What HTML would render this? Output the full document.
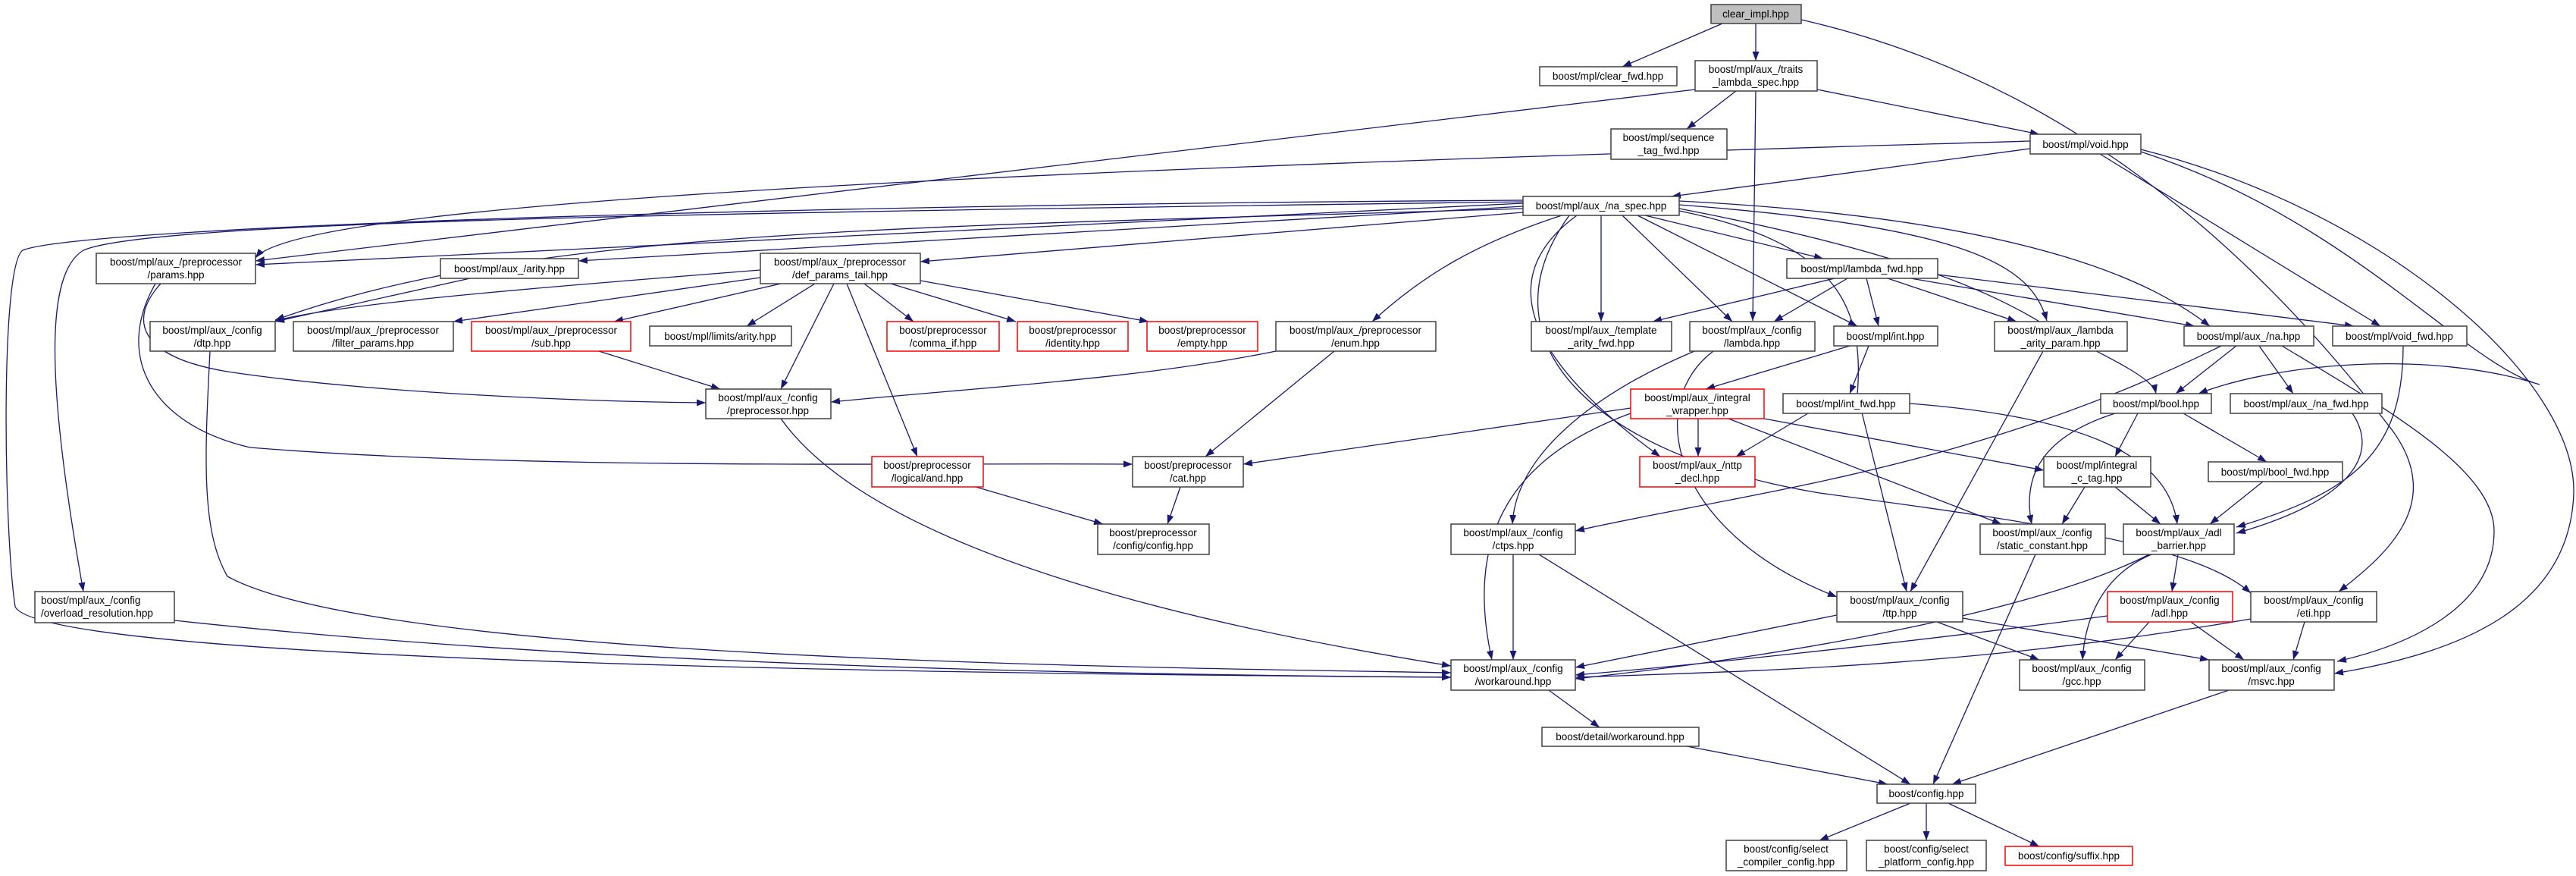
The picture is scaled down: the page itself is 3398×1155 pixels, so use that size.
<!DOCTYPE html>
<html><head><meta charset="utf-8"><style>
html,body{margin:0;padding:0;background:#fff;}
svg{display:block;}
text{font-family:"Liberation Sans",sans-serif;font-size:13.5px;fill:#000;}
.n{fill:#fff;stroke:#404040;stroke-width:1.5;}
.r{fill:#fff;stroke:#ff0000;stroke-width:1.5;}
.g{fill:#bfbfbf;stroke:#404040;stroke-width:1.5;}
path.e{fill:none;stroke:#191970;stroke-width:1.3;marker-end:url(#a);}
</style></head><body>
<svg width="3398" height="1155" viewBox="0 0 3398 1155" xmlns="http://www.w3.org/2000/svg">
<defs><marker id="a" markerUnits="userSpaceOnUse" markerWidth="13" markerHeight="9" refX="12" refY="4.5" orient="auto"><path d="M0,0 L12,4.5 L0,9 z" fill="#191970"/></marker></defs>
<g>
<path class="e" d="M2272,31 L2140,88"/>
<path class="e" d="M2316,31 L2316,80"/>
<path class="e" d="M2376,26 C2700,100 2950,300 3150,560 C3230,660 3150,730 3085,780"/>
<path class="e" d="M2236,118 L337,344"/>
<path class="e" d="M2290,120 L2225,170"/>
<path class="e" d="M2397,118 L2690,177"/>
<path class="e" d="M2316,120 L2312,423"/>
<path class="e" d="M2678,196 L2205,259"/>
<path class="e" d="M2678,186 C1500,220 400,260 337,340"/>
<path class="e" d="M2770,203 L3140,430"/>
<path class="e" d="M2824,197 C3150,280 3398,500 3395,650 C3390,800 3250,860 3079,888"/>
<path class="e" d="M2824,200 C3100,290 3250,480 3350,507 C3200,460 3000,480 2900,519"/>
<path class="e" d="M2009,268 L337,349"/>
<path class="e" d="M2009,272 L763,344"/>
<path class="e" d="M2009,280 L1214,345"/>
<path class="e" d="M2009,275 C1200,300 700,300 363,422"/>
<path class="e" d="M2009,266 C1000,280 200,290 110,330 C60,360 60,500 110,780"/>
<path class="e" d="M2009,264 C1000,270 100,300 30,330 C0,350 5,700 20,800 C60,880 1500,890 1914,893"/>
<path class="e" d="M2060,284 C1950,320 1880,360 1810,424"/>
<path class="e" d="M2112,284 L2112,424"/>
<path class="e" d="M2140,284 L2285,424"/>
<path class="e" d="M2160,284 L2450,430"/>
<path class="e" d="M2170,284 L2405,341"/>
<path class="e" d="M2215,270 C2600,300 2680,350 2700,423"/>
<path class="e" d="M2215,265 C2700,290 2850,380 2915,430"/>
<path class="e" d="M2215,275 C2500,330 2620,380 2700,430 C2800,480 2840,500 2844,519"/>
<path class="e" d="M2080,284 C1990,350 1980,450 2190,602"/>
<path class="e" d="M2215,278 C2420,320 2460,400 2450,520 L2515,780"/>
<path class="e" d="M2070,284 C1950,450 2100,600 2400,650 C2700,690 2900,720 2969,782"/>
<path class="e" d="M1003,356 C700,380 450,400 363,423"/>
<path class="e" d="M1003,366 L598,424"/>
<path class="e" d="M1030,374 L810,424"/>
<path class="e" d="M1075,374 L985,430"/>
<path class="e" d="M1100,374 L1030,513"/>
<path class="e" d="M1117,374 L1210,602"/>
<path class="e" d="M1140,374 L1205,424"/>
<path class="e" d="M1175,374 L1340,424"/>
<path class="e" d="M1214,370 L1515,424"/>
<path class="e" d="M212,374 C170,420 180,470 300,490 C500,520 800,530 931,531"/>
<path class="e" d="M205,374 C150,470 200,560 330,590 C700,620 1200,610 1494,612"/>
<path class="e" d="M620,367 L363,424"/>
<path class="e" d="M277,463 C270,600 265,700 300,760 C500,870 1500,880 1914,887"/>
<path class="e" d="M790,463 L950,513"/>
<path class="e" d="M1683,463 C1500,500 1300,510 1096,530"/>
<path class="e" d="M1760,463 L1590,602"/>
<path class="e" d="M1030,552 C1100,650 1300,780 1914,878"/>
<path class="e" d="M1287,642 L1455,691"/>
<path class="e" d="M1557,642 L1540,691"/>
<path class="e" d="M230,818 C800,880 1500,890 1914,893"/>
<path class="e" d="M2420,367 L2180,424"/>
<path class="e" d="M2437,367 L2340,424"/>
<path class="e" d="M2462,367 L2478,430"/>
<path class="e" d="M2490,367 L2660,424"/>
<path class="e" d="M2520,367 L2895,430"/>
<path class="e" d="M2556,362 L3105,430"/>
<path class="e" d="M2235,463 C2100,520 2000,600 1995,691"/>
<path class="e" d="M2260,463 C2170,530 2200,700 2423,787"/>
<path class="e" d="M2930,456 C2600,620 2300,650 2078,700"/>
<path class="e" d="M2440,456 L2250,513"/>
<path class="e" d="M2465,456 L2440,519"/>
<path class="e" d="M2240,552 L2240,602"/>
<path class="e" d="M2151,538 L1640,612"/>
<path class="e" d="M2151,545 C2000,600 1930,700 1968,870"/>
<path class="e" d="M2327,552 L2696,620"/>
<path class="e" d="M2280,552 L2640,691"/>
<path class="e" d="M2385,545 L2290,602"/>
<path class="e" d="M2519,532 C2750,550 2860,600 2872,691"/>
<path class="e" d="M2695,463 L2520,780"/>
<path class="e" d="M2950,456 L2870,519"/>
<path class="e" d="M2980,456 L3025,519"/>
<path class="e" d="M3010,456 C3150,540 3290,620 3290,700 C3290,800 3180,850 3083,872"/>
<path class="e" d="M2820,545 L2790,602"/>
<path class="e" d="M2880,545 L2990,609"/>
<path class="e" d="M2790,545 C2680,580 2670,640 2680,691"/>
<path class="e" d="M2985,635 L2915,691"/>
<path class="e" d="M2750,642 L2720,691"/>
<path class="e" d="M2790,642 L2850,691"/>
<path class="e" d="M3170,456 C3170,600 3100,650 2950,695"/>
<path class="e" d="M3103,545 C3140,600 3100,660 2950,703"/>
<path class="e" d="M2685,731 L2550,1034"/>
<path class="e" d="M2873,731 L2865,780"/>
<path class="e" d="M2838,731 C2770,760 2750,820 2747,870"/>
<path class="e" d="M2835,731 C2700,800 2400,860 2078,895"/>
<path class="e" d="M1996,731 L1996,870"/>
<path class="e" d="M2030,731 L2520,1034"/>
<path class="e" d="M2423,811 L2078,880"/>
<path class="e" d="M2555,820 L2690,870"/>
<path class="e" d="M2589,815 L2914,870"/>
<path class="e" d="M2835,820 L2790,870"/>
<path class="e" d="M2890,820 L2960,870"/>
<path class="e" d="M2780,812 C2500,850 2200,880 2078,890"/>
<path class="e" d="M3040,820 L3025,870"/>
<path class="e" d="M2969,816 C2600,880 2300,885 2078,893"/>
<path class="e" d="M2043,910 L2110,959"/>
<path class="e" d="M2225,984 L2490,1034"/>
<path class="e" d="M2940,910 L2575,1034"/>
<path class="e" d="M2520,1059 L2400,1108"/>
<path class="e" d="M2541,1059 L2541,1108"/>
<path class="e" d="M2570,1059 L2690,1116"/>
</g>
<g text-anchor="middle">
<rect class="g" x="2257" y="6" width="119" height="25"/><text x="2316" y="23">clear_impl.hpp</text>
<rect class="n" x="2031" y="88" width="181" height="25"/><text x="2121" y="105">boost/mpl/clear_fwd.hpp</text>
<rect class="n" x="2236" y="80" width="161" height="40"/><text x="2316" y="96">boost/mpl/aux_/traits</text><text x="2316" y="113">_lambda_spec.hpp</text>
<rect class="n" x="2125" y="170" width="153" height="40"/><text x="2201" y="186">boost/mpl/sequence</text><text x="2201" y="203">_tag_fwd.hpp</text>
<rect class="n" x="2678" y="177" width="146" height="26"/><text x="2751" y="195">boost/mpl/void.hpp</text>
<rect class="n" x="2009" y="259" width="206" height="25"/><text x="2112" y="276">boost/mpl/aux_/na_spec.hpp</text>
<rect class="n" x="127" y="334" width="210" height="40"/><text x="232" y="350">boost/mpl/aux_/preprocessor</text><text x="232" y="367">/params.hpp</text>
<rect class="n" x="581" y="341" width="182" height="26"/><text x="672" y="359">boost/mpl/aux_/arity.hpp</text>
<rect class="n" x="1003" y="334" width="211" height="40"/><text x="1108" y="350">boost/mpl/aux_/preprocessor</text><text x="1108" y="367">/def_params_tail.hpp</text>
<rect class="n" x="2357" y="341" width="199" height="26"/><text x="2456" y="359">boost/mpl/lambda_fwd.hpp</text>
<rect class="n" x="198" y="424" width="165" height="39"/><text x="280" y="440">boost/mpl/aux_/config</text><text x="280" y="457">/dtp.hpp</text>
<rect class="n" x="387" y="424" width="211" height="39"/><text x="492" y="440">boost/mpl/aux_/preprocessor</text><text x="492" y="457">/filter_params.hpp</text>
<rect class="r" x="622" y="424" width="210" height="39"/><text x="727" y="440">boost/mpl/aux_/preprocessor</text><text x="727" y="457">/sub.hpp</text>
<rect class="n" x="857" y="430" width="187" height="26"/><text x="950" y="448">boost/mpl/limits/arity.hpp</text>
<rect class="r" x="1170" y="424" width="148" height="39"/><text x="1244" y="440">boost/preprocessor</text><text x="1244" y="457">/comma_if.hpp</text>
<rect class="r" x="1342" y="424" width="146" height="39"/><text x="1415" y="440">boost/preprocessor</text><text x="1415" y="457">/identity.hpp</text>
<rect class="r" x="1513" y="424" width="146" height="39"/><text x="1586" y="440">boost/preprocessor</text><text x="1586" y="457">/empty.hpp</text>
<rect class="n" x="1683" y="424" width="211" height="39"/><text x="1788" y="440">boost/mpl/aux_/preprocessor</text><text x="1788" y="457">/enum.hpp</text>
<rect class="n" x="2020" y="424" width="185" height="39"/><text x="2112" y="440">boost/mpl/aux_/template</text><text x="2112" y="457">_arity_fwd.hpp</text>
<rect class="n" x="2229" y="424" width="165" height="39"/><text x="2311" y="440">boost/mpl/aux_/config</text><text x="2311" y="457">/lambda.hpp</text>
<rect class="n" x="2419" y="430" width="137" height="26"/><text x="2487" y="448">boost/mpl/int.hpp</text>
<rect class="n" x="2631" y="424" width="175" height="39"/><text x="2718" y="440">boost/mpl/aux_/lambda</text><text x="2718" y="457">_arity_param.hpp</text>
<rect class="n" x="2881" y="430" width="171" height="26"/><text x="2966" y="448">boost/mpl/aux_/na.hpp</text>
<rect class="n" x="3077" y="430" width="177" height="26"/><text x="3165" y="448">boost/mpl/void_fwd.hpp</text>
<rect class="n" x="931" y="513" width="165" height="39"/><text x="1013" y="529">boost/mpl/aux_/config</text><text x="1013" y="546">/preprocessor.hpp</text>
<rect class="r" x="2151" y="513" width="176" height="39"/><text x="2239" y="529">boost/mpl/aux_/integral</text><text x="2239" y="546">_wrapper.hpp</text>
<rect class="n" x="2352" y="519" width="167" height="26"/><text x="2435" y="537">boost/mpl/int_fwd.hpp</text>
<rect class="n" x="2771" y="519" width="146" height="26"/><text x="2844" y="537">boost/mpl/bool.hpp</text>
<rect class="n" x="2942" y="519" width="200" height="26"/><text x="3042" y="537">boost/mpl/aux_/na_fwd.hpp</text>
<rect class="r" x="1150" y="602" width="147" height="40"/><text x="1223" y="618">boost/preprocessor</text><text x="1223" y="635">/logical/and.hpp</text>
<rect class="n" x="1494" y="602" width="146" height="40"/><text x="1567" y="618">boost/preprocessor</text><text x="1567" y="635">/cat.hpp</text>
<rect class="r" x="2163" y="602" width="152" height="40"/><text x="2239" y="618">boost/mpl/aux_/nttp</text><text x="2239" y="635">_decl.hpp</text>
<rect class="n" x="2696" y="602" width="141" height="40"/><text x="2766" y="618">boost/mpl/integral</text><text x="2766" y="635">_c_tag.hpp</text>
<rect class="n" x="2913" y="609" width="177" height="26"/><text x="3001" y="627">boost/mpl/bool_fwd.hpp</text>
<rect class="n" x="1448" y="691" width="147" height="40"/><text x="1521" y="707">boost/preprocessor</text><text x="1521" y="724">/config/config.hpp</text>
<rect class="n" x="1914" y="691" width="164" height="40"/><text x="1996" y="707">boost/mpl/aux_/config</text><text x="1996" y="724">/ctps.hpp</text>
<rect class="n" x="2612" y="691" width="165" height="40"/><text x="2694" y="707">boost/mpl/aux_/config</text><text x="2694" y="724">/static_constant.hpp</text>
<rect class="n" x="2801" y="691" width="146" height="40"/><text x="2874" y="707">boost/mpl/aux_/adl</text><text x="2874" y="724">_barrier.hpp</text>
<rect class="n" x="46" y="780" width="184" height="41"/><text x="54" y="796" text-anchor="start">boost/mpl/aux_/config</text><text x="54" y="813" text-anchor="start">/overload_resolution.hpp</text>
<rect class="n" x="2423" y="780" width="166" height="40"/><text x="2506" y="796">boost/mpl/aux_/config</text><text x="2506" y="813">/ttp.hpp</text>
<rect class="r" x="2780" y="780" width="165" height="40"/><text x="2862" y="796">boost/mpl/aux_/config</text><text x="2862" y="813">/adl.hpp</text>
<rect class="n" x="2969" y="780" width="166" height="40"/><text x="3052" y="796">boost/mpl/aux_/config</text><text x="3052" y="813">/eti.hpp</text>
<rect class="n" x="1914" y="870" width="164" height="40"/><text x="1996" y="886">boost/mpl/aux_/config</text><text x="1996" y="903">/workaround.hpp</text>
<rect class="n" x="2664" y="870" width="165" height="40"/><text x="2746" y="886">boost/mpl/aux_/config</text><text x="2746" y="903">/gcc.hpp</text>
<rect class="n" x="2914" y="870" width="165" height="40"/><text x="2996" y="886">boost/mpl/aux_/config</text><text x="2996" y="903">/msvc.hpp</text>
<rect class="n" x="2034" y="959" width="207" height="25"/><text x="2137" y="976">boost/detail/workaround.hpp</text>
<rect class="n" x="2476" y="1034" width="130" height="25"/><text x="2541" y="1051">boost/config.hpp</text>
<rect class="n" x="2277" y="1108" width="159" height="40"/><text x="2356" y="1124">boost/config/select</text><text x="2356" y="1141">_compiler_config.hpp</text>
<rect class="n" x="2462" y="1108" width="158" height="40"/><text x="2541" y="1124">boost/config/select</text><text x="2541" y="1141">_platform_config.hpp</text>
<rect class="r" x="2645" y="1116" width="168" height="25"/><text x="2729" y="1133">boost/config/suffix.hpp</text>
</g>
</svg>
</body></html>
